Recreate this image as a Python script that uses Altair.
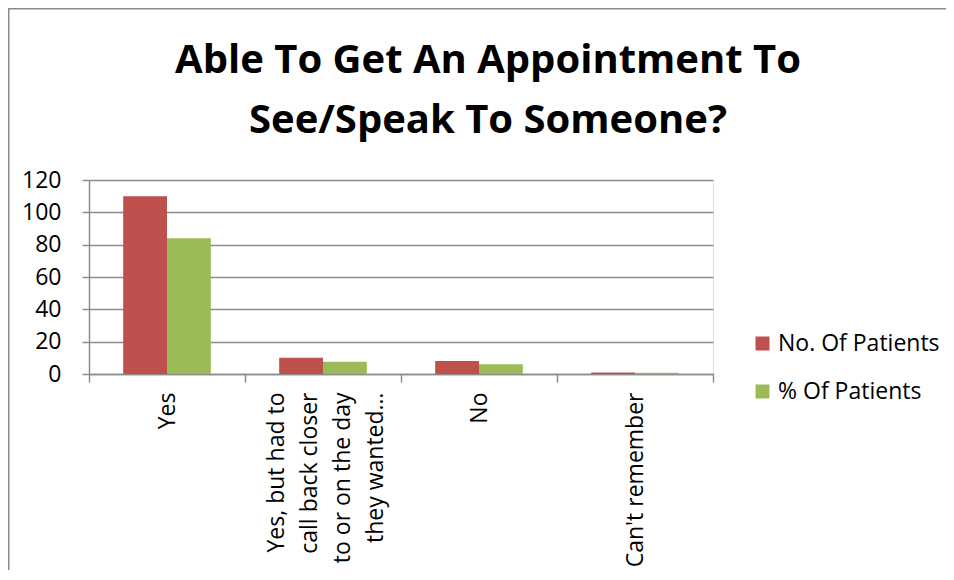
import altair as alt
import pandas as pd

categories = [
    "Yes",
    "Yes, but had to call back closer to or on the day they wanted…",
    "No",
    "Can't remember",
]
label_lines = [
    ["Yes"],
    ["Yes, but had to", "call back closer", "to or on the day", "they wanted…"],
    ["No"],
    ["Can't remember"],
]
series = ["No. Of Patients", "% Of Patients"]
no_of_patients = [110, 10, 8, 1]
pct_of_patients = [84, 7.6, 6, 0.8]
colors = ["#C0504D", "#9BBB59"]
y_ticks = [0, 20, 40, 60, 80, 100, 120]

rows = []
for c, a, b in zip(categories, no_of_patients, pct_of_patients):
    rows.append({"category": c, "series": series[0], "value": a})
    rows.append({"category": c, "series": series[1], "value": b})
df = pd.DataFrame(rows)

LINE_H = 33


def q(s):
    return "'" + s.replace("\\", "\\\\").replace("'", "\\'") + "'"


# label expression: multi-line labels where needed
expr = "datum.label"
offset_expr = "0"
for c, lines in zip(categories, label_lines):
    if len(lines) > 1:
        arr = "[" + ",".join(q(l) for l in lines) + "]"
        expr = f"datum.label == {q(c)} ? {arr} : " + expr
        offset_expr = f"datum.value == {q(c)} ? {-(len(lines) - 1) * LINE_H / 2 + 3} : " + offset_expr

W, H = 624, 194
PL, PT = 81, 172
TOTAL_W, TOTAL_H = 938, 562
PR = TOTAL_W - PL - W
PB = TOTAL_H - PT - H

FONT = "Open Sans"
GRID = "#8c8c8c"
FRAME = "#8a8a8a"

bars = alt.Chart(df).mark_bar().encode(
    x=alt.X(
        "category:N",
        sort=categories,
        title=None,
        scale=alt.Scale(paddingInner=0, paddingOuter=0),
        axis=alt.Axis(
            labelAngle=-90,
            labelAlign="right",
            labelBaseline="middle",
            labelExpr=expr,
            labelLineHeight=LINE_H,
            labelOffset=alt.ExprRef(offset_expr),
            labelFontSize=23,
            labelFont=FONT,
            labelColor="#000000",
            labelPadding=10,
            labelLimit=400,
            tickBand="extent",
            tickSize=8,
            tickColor=GRID,
            tickWidth=1.5,
            domainColor=GRID,
            domainWidth=1.5,
            grid=False,
        ),
    ),
    xOffset=alt.XOffset(
        "series:N", sort=series, scale=alt.Scale(paddingInner=0, paddingOuter=0.78)
    ),
    y=alt.Y(
        "value:Q",
        title=None,
        scale=alt.Scale(domain=[0, 120], nice=False),
        axis=alt.Axis(
            values=y_ticks,
            labelFontSize=23,
            labelFont=FONT,
            labelColor="#000000",
            labelPadding=21,
            tickSize=7,
            tickColor=GRID,
            tickWidth=1.5,
            domainColor=GRID,
            domainWidth=1.5,
            grid=True,
            gridColor=GRID,
            gridWidth=1.5,
        ),
    ),
    color=alt.Color(
        "series:N",
        sort=series,
        scale=alt.Scale(domain=series, range=colors),
        legend=alt.Legend(
            title=None,
            orient="none",
            legendX=662,
            legendY=152,
            symbolType="square",
            symbolSize=196,
            symbolStrokeWidth=0,
            labelFontSize=23,
            labelFont=FONT,
            labelColor="#000000",
            labelOffset=4,
            rowPadding=24,
            padding=0,
            labelLimit=300,
        ),
    ),
)

one = alt.Data(values=[{"a": 1}])
frame_left = alt.Chart(one).mark_rule(color=FRAME, strokeWidth=1.5).encode(
    x=alt.value(-PL + 0.75),
    y=alt.value(-PT + 0.75),
    y2=alt.value(H + PB),
)
frame_top = alt.Chart(one).mark_rule(color=FRAME, strokeWidth=1.5).encode(
    x=alt.value(-PL),
    x2=alt.value(W + PR),
    y=alt.value(-PT + 0.75),
)

chart = alt.layer(frame_left, frame_top, bars).properties(
    width=W,
    height=H,
    autosize=alt.AutoSizeParams(type="none"),
    padding={"left": PL, "top": PT, "right": PR, "bottom": PB},
    title=alt.TitleParams(
        text=["Able To Get An Appointment To", "See/Speak To Someone?"],
        font=FONT,
        fontSize=40,
        fontWeight="bold",
        color="#000000",
        lineHeight=60,
        anchor="middle",
        frame="group",
        dx=87,
        offset=-133,
    ),
).configure_view(stroke=None).configure(background="white")

chart.save("out.html", embed_options={"renderer": "svg", "actions": False})
